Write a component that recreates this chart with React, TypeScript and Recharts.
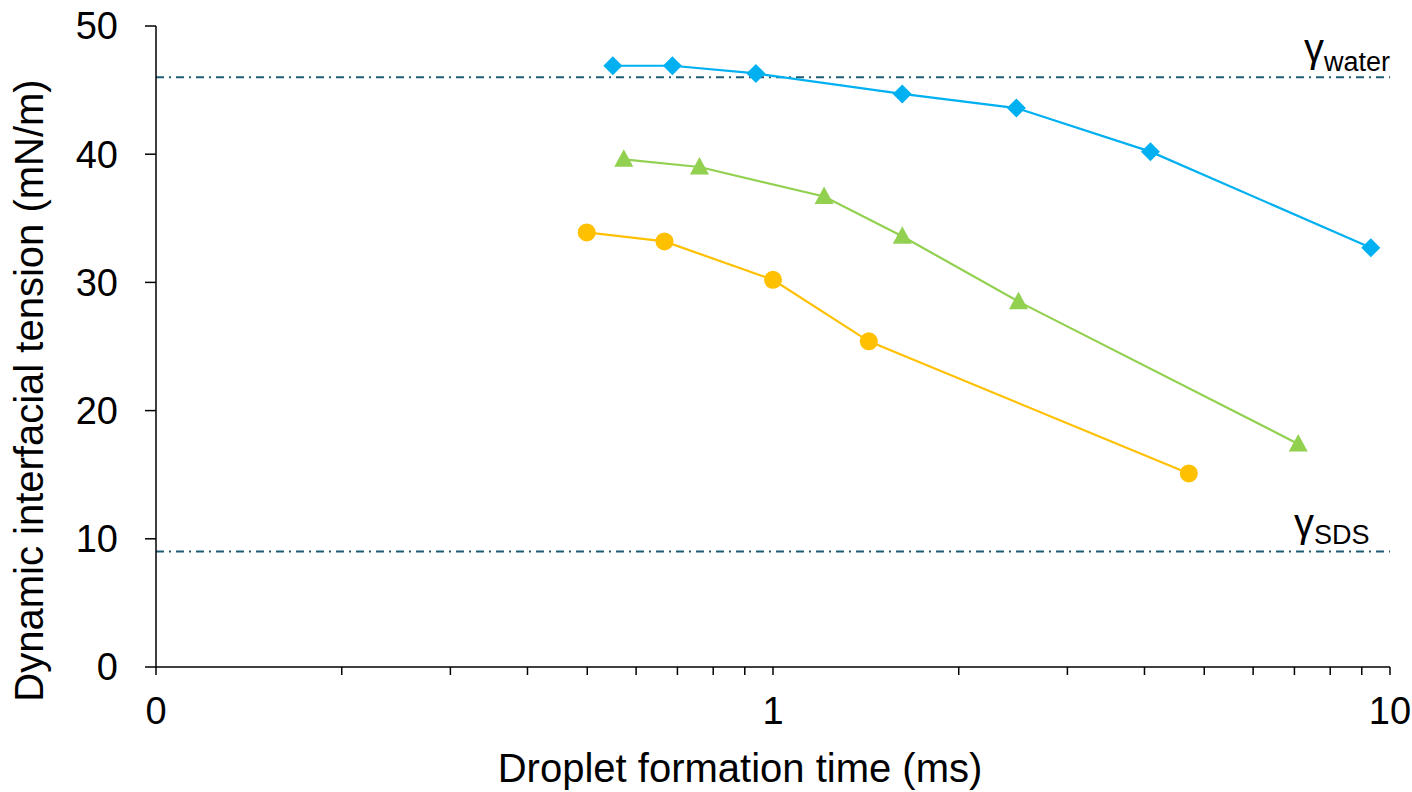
import React from 'react';
import { LineChart, Line, XAxis, YAxis, ReferenceLine } from 'recharts';

// droplet formation time (ms) and dynamic interfacial tension (mN/m)
const blueTimes = [0.55, 0.687, 0.938, 1.62, 2.48, 4.09, 9.31];
const blueTension = [46.9, 46.9, 46.3, 44.7, 43.6, 40.2, 32.7];
const greenTimes = [0.573, 0.76, 1.21, 1.62, 2.5, 7.1];
const greenTension = [39.6, 39.0, 36.7, 33.6, 28.5, 17.4];
const orangeTimes = [0.499, 0.667, 1.0, 1.43, 4.72];
const orangeTension = [33.9, 33.2, 30.2, 25.4, 15.1];

const xTicks = [0.1, 0.2, 0.3, 0.4, 0.5, 0.6, 0.7, 0.8, 0.9, 1, 2, 3, 4, 5, 6, 7, 8, 9, 10];
const xTickLabels: Record<number, string> = { 0.1: '0', 1: '1', 10: '10' };
const yTicks = [0, 10, 20, 30, 40, 50];

const gammaWater = 46;
const gammaSDS = 9;

const toRows = (xs: number[], ys: number[]) => xs.map((t, i) => ({ t, v: ys[i] }));
const blueData = toRows(blueTimes, blueTension);
const greenData = toRows(greenTimes, greenTension);
const orangeData = toRows(orangeTimes, orangeTension);

const FONT = '"Liberation Sans", Arial, sans-serif';
const BLUE = '#00B0F0';
const GREEN = '#92D050';
const ORANGE = '#FFC000';
const REF = '#1F5C73';

const Diamond = (p: any) => {
  const { cx, cy } = p;
  if (cx == null || cy == null) return null;
  return (
    <polygon
      key={`d-${p.index}`}
      points={`${cx},${cy - 9.5} ${cx + 9.5},${cy} ${cx},${cy + 9.5} ${cx - 9.5},${cy}`}
      fill={BLUE}
    />
  );
};

const Triangle = (p: any) => {
  const { cx, cy } = p;
  if (cx == null || cy == null) return null;
  return (
    <polygon
      key={`t-${p.index}`}
      points={`${cx},${cy - 10} ${cx + 9.5},${cy + 7.5} ${cx - 9.5},${cy + 7.5}`}
      fill={GREEN}
    />
  );
};

const Dot = (p: any) => {
  const { cx, cy } = p;
  if (cx == null || cy == null) return null;
  return <circle key={`c-${p.index}`} cx={cx} cy={cy} r={9} fill={ORANGE} />;
};

const XTick = (props: any) => {
  const { x, y, payload } = props;
  const label = xTickLabels[payload.value];
  if (!label) return null;
  return (
    <text x={x} y={y + 47} textAnchor="middle" fontSize={38} fontFamily={FONT} fill="#000">
      {label}
    </text>
  );
};

const XTitle = (props: any) => {
  const { viewBox } = props;
  return (
    <text
      x={viewBox.x + viewBox.width / 2 - 33}
      y={viewBox.y + 115}
      textAnchor="middle"
      fontSize={40}
      fontFamily={FONT}
      fill="#000"
    >
      Droplet formation time (ms)
    </text>
  );
};

const YTitle = (props: any) => {
  const { viewBox } = props;
  const x = viewBox.x + 43;
  const y = viewBox.y + viewBox.height / 2 + 44;
  return (
    <text
      x={x}
      y={y}
      transform={`rotate(-90, ${x}, ${y})`}
      textAnchor="middle"
      fontSize={40}
      fontFamily={FONT}
      fill="#000"
    >
      Dynamic interfacial tension (mN/m)
    </text>
  );
};

const gammaLabel = (sub: string, shift: number, subDy: number) => (props: any) => {
  const { viewBox } = props;
  const right = viewBox.x + viewBox.width;
  return (
    <text x={right - shift} y={viewBox.y - 15} fontFamily={FONT} fill="#000">
      <tspan fontSize={40}>γ</tspan>
      <tspan fontSize={27} dy={subDy}>{sub}</tspan>
    </text>
  );
};

export default function App() {
  return (
    <div style={{ position: 'absolute', left: 0, top: 0, background: '#fff' }}>
      <LineChart width={1412} height={792} margin={{ top: 26, right: 22, left: 0, bottom: 0 }}>
        <XAxis
          type="number"
          dataKey="t"
          scale="log"
          domain={[0.1, 10]}
          allowDataOverflow
          ticks={xTicks}
          interval={0}
          tick={<XTick />}
          tickSize={8}
          tickLine={{ stroke: '#000', strokeWidth: 1.5 }}
          axisLine={{ stroke: '#000', strokeWidth: 1.5 }}
          height={125}
          label={XTitle}
        />
        <YAxis
          type="number"
          domain={[0, 50]}
          ticks={yTicks}
          interval={0}
          width={156}
          tickSize={11}
          tickMargin={27}
          tick={{ fontSize: 38, fontFamily: FONT, fill: '#000' }}
          tickLine={{ stroke: '#000', strokeWidth: 1.5 }}
          axisLine={{ stroke: '#000', strokeWidth: 1.5 }}
          label={YTitle}
        />
        <ReferenceLine
          y={gammaWater}
          stroke={REF}
          strokeWidth={2}
          strokeDasharray="8 5 2 5"
          label={gammaLabel('water', 86, 9)}
        />
        <ReferenceLine
          y={gammaSDS}
          stroke={REF}
          strokeWidth={2}
          strokeDasharray="8 5 2 5"
          label={gammaLabel('SDS', 96, 7)}
        />
        <Line
          data={blueData}
          dataKey="v"
          stroke={BLUE}
          strokeWidth={2.2}
          dot={Diamond}
          activeDot={false}
          isAnimationActive={false}
        />
        <Line
          data={greenData}
          dataKey="v"
          stroke={GREEN}
          strokeWidth={2.2}
          dot={Triangle}
          activeDot={false}
          isAnimationActive={false}
        />
        <Line
          data={orangeData}
          dataKey="v"
          stroke={ORANGE}
          strokeWidth={2.2}
          dot={Dot}
          activeDot={false}
          isAnimationActive={false}
        />
      </LineChart>
    </div>
  );
}
